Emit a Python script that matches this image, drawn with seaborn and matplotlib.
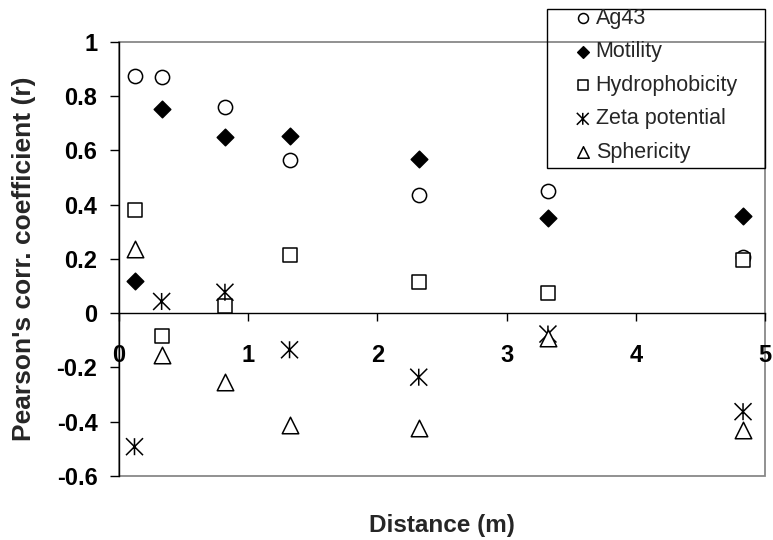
import matplotlib
matplotlib.use("Agg")
import matplotlib.pyplot as plt
import seaborn as sns
import numpy as np
from matplotlib.path import Path
from matplotlib.patches import Rectangle

# ---- data ----
distance = [0.12, 0.33, 0.82, 1.32, 2.32, 3.32, 4.83]
ag43 = [0.873, 0.869, 0.759, 0.566, 0.435, 0.449, 0.207]
motility = [0.12, 0.753, 0.649, 0.652, 0.569, 0.35, 0.357]
hydrophobicity = [0.379, -0.084, 0.027, 0.213, 0.113, 0.076, 0.194]
zeta_potential = [-0.492, 0.043, 0.077, -0.135, -0.236, -0.077, -0.363]
sphericity = [0.236, -0.154, -0.252, -0.412, -0.424, -0.092, -0.43]

series_names = ["Ag43", "Motility", "Hydrophobicity", "Zeta potential", "Sphericity"]
series_values = [ag43, motility, hydrophobicity, zeta_potential, sphericity]

x_ticks = [0, 1, 2, 3, 4, 5]
x_tick_labels = ["0", "1", "2", "3", "4", "5"]
y_ticks = [1, 0.8, 0.6, 0.4, 0.2, 0, -0.2, -0.4, -0.6]
y_tick_labels = ["1", "0.8", "0.6", "0.4", "0.2", "0", "-0.2", "-0.4", "-0.6"]

# ---- styling ----
sns.set_style("white")
plt.rcParams["font.family"] = ["Liberation Sans", "DejaVu Sans"]
plt.rcParams["axes.unicode_minus"] = False

asterisk = Path([(0, -1), (0, 1), (-1, -1), (1, 1), (-1, 1), (1, -1)],
                [Path.MOVETO, Path.LINETO] * 3)

styles = {
    "Ag43": dict(marker="o", s=105, face="white"),
    "Motility": dict(marker="D", s=71, face="black"),
    "Hydrophobicity": dict(marker="s", s=105, face="white"),
    "Zeta potential": dict(marker=asterisk, s=150, face="none"),
    "Sphericity": dict(marker="^", s=141, face="white"),
}

fig = plt.figure(figsize=(7.73, 5.40), dpi=100)
ax = fig.add_axes([119 / 773, 1 - 476 / 540, 646 / 773, 434.3 / 540])

# frame: gray plot-area border, black axes (set before ticks)
for side in ["top", "right"]:
    ax.spines[side].set_visible(False)
ax.spines["bottom"].set_position(("data", 0))
for side in ["left", "bottom"]:
    ax.spines[side].set_color("black")
    ax.spines[side].set_linewidth(1.0)

for name, vals in zip(series_names, series_values):
    st = styles[name]
    sns.scatterplot(x=distance, y=vals, marker=st["marker"], s=st["s"],
                    ax=ax, label=name, color="black", zorder=3)
    coll = ax.collections[-1]
    coll.set_facecolor(st["face"])
    coll.set_edgecolor("black")
    coll.set_linewidth(1.1)

ax.set_xlim(0, 5)
ax.set_ylim(-0.6, 1)
ax.set_xticks(x_ticks)
ax.set_xticklabels(x_tick_labels, fontsize=17, fontweight="bold")
ax.set_yticks(y_ticks)
ax.set_yticklabels(y_tick_labels, fontsize=17, fontweight="bold")

ax.add_patch(Rectangle((0, 0), 1, 1, transform=ax.transAxes, fill=False,
                       edgecolor="#888888", linewidth=1.3, zorder=0.5, clip_on=False))

ax.tick_params(axis="y", direction="out", length=6.5, width=1, pad=9,
               left=True, colors="black", labelsize=17)
ax.tick_params(axis="x", direction="out", length=6, width=1, pad=16,
               bottom=True, colors="black", labelsize=17)
for lbl in ax.get_xticklabels() + ax.get_yticklabels():
    lbl.set_fontweight("bold")

ax.set_xlabel("Distance (m)", fontsize=17.5, fontweight="bold")
ax.set_ylabel("Pearson's corr. coefficient (r)", fontsize=19, fontweight="bold")
ax.xaxis.label.set_va("center")
ax.yaxis.label.set_va("center")
ax.xaxis.set_label_coords(0.5, -0.115)
ax.yaxis.set_label_coords((24 - 119) / 646, 0.5)

# legend
if ax.get_legend():
    ax.get_legend().remove()
handles, labels = ax.get_legend_handles_labels()
leg = fig.legend(handles, labels, loc="upper left",
                 bbox_to_anchor=(572 / 773, 1 - 8 / 540),
                 frameon=False, fontsize=15.5, borderpad=0,
                 handlelength=1.0, handletextpad=0.1, labelspacing=0.58,
                 markerscale=0.7, borderaxespad=0)
fig.add_artist(Rectangle((547 / 773, 1 - 168 / 540), 218 / 773, 159 / 540,
                         transform=fig.transFigure, fill=False,
                         edgecolor="black", linewidth=1.0))

fig.savefig("out.png", dpi=100)
